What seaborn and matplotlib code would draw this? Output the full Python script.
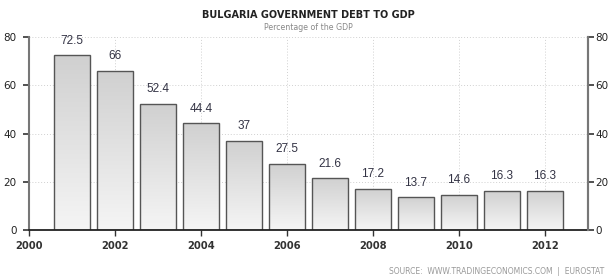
import numpy as np
import pandas as pd
import matplotlib
matplotlib.use("Agg")
import matplotlib.pyplot as plt
import seaborn as sns

years = [2001, 2002, 2003, 2004, 2005, 2006, 2007, 2008, 2009, 2010, 2011, 2012]
values = [72.5, 66, 52.4, 44.4, 37, 27.5, 21.6, 17.2, 13.7, 14.6, 16.3, 16.3]
labels = ["72.5", "66", "52.4", "44.4", "37", "27.5", "21.6", "17.2", "13.7", "14.6", "16.3", "16.3"]
xticks = [2000, 2002, 2004, 2006, 2008, 2010, 2012]
yticks = [0, 20, 40, 60, 80]
title = "BULGARIA GOVERNMENT DEBT TO GDP"
subtitle = "Percentage of the GDP"
source = "SOURCE:  WWW.TRADINGECONOMICS.COM  |  EUROSTAT"

sns.set_theme(style="white")
plt.rcParams["font.family"] = ["DejaVu Sans"]

df = pd.DataFrame({"year": years, "value": values})

fig = plt.figure(figsize=(6.09, 2.78), dpi=100)
ax = fig.add_axes([29 / 609, 1 - 230 / 278, (588 - 29) / 609, (230 - 37) / 278])

sns.barplot(data=df, x="year", y="value", native_scale=True, width=0.82,
            color="#dddddd", edgecolor="#555555", linewidth=1.0, ax=ax, zorder=3)

# gradient fill inside bars
grad = np.linspace(0, 1, 256).reshape(-1, 1)
cmap = matplotlib.colors.LinearSegmentedColormap.from_list("g", ["#f5f5f5", "#d0d0d0"])
for p in list(ax.patches):
    x0, y0 = p.get_x(), p.get_y()
    w, h = p.get_width(), p.get_height()
    im = ax.imshow(grad, extent=[x0, x0 + w, y0, y0 + h], origin="lower",
                   aspect="auto", cmap=cmap, zorder=2.5)
    im.set_clip_path(p)
    p.set_facecolor("none")

for x, v, t in zip(years, values, labels):
    ax.annotate(t, (x, v), xytext=(0, 6), textcoords="offset points",
                ha="center", va="bottom", fontsize=8.5, color="#333344",
                family=["Liberation Sans Narrow", "Liberation Sans"])

ax.set_xlim(2000, 2013)
ax.set_ylim(0, 80)
ax.set_xticks(xticks)
ax.set_xticklabels([str(t) for t in xticks], fontsize=7.2, fontweight="bold", color="#333333")
ax.set_yticks(yticks)
ax.set_yticklabels([str(t) for t in yticks], fontsize=7.5, color="#222222")
ax.set_xlabel("")
ax.set_ylabel("")
ax.grid(True, linestyle=(0, (1, 2)), color="#d0d0d0", linewidth=0.7, zorder=0)
ax.set_axisbelow(True)

ax.spines["top"].set_visible(False)
ax.spines["left"].set_color("#777777")
ax.spines["left"].set_linewidth(1.5)
ax.spines["right"].set_color("#777777")
ax.spines["right"].set_linewidth(1.5)
ax.spines["bottom"].set_color("#222222")
ax.spines["bottom"].set_linewidth(1.3)
ax.spines["bottom"].set_zorder(5)

ax.tick_params(axis="y", which="both", left=True, length=4.5, width=1.2, color="#333333", pad=4.3)
ax.tick_params(axis="x", which="both", bottom=True, length=4, width=1.0, color="#333333", pad=4)

ax2 = ax.twinx()
ax2.set_ylim(0, 80)
ax2.set_yticks(yticks)
ax2.set_yticklabels([str(t) for t in yticks], fontsize=7.5, color="#222222")
ax2.tick_params(axis="y", right=True, length=4, width=1.2, color="#333333", pad=1.2)
for s in ["top", "left", "bottom"]:
    ax2.spines[s].set_visible(False)
ax2.spines["right"].set_color("#777777")
ax2.spines["right"].set_linewidth(1.5)
ax2.grid(False)

fig.text(308 / 609, 1 - 15.5 / 278, title, ha="center", va="center",
         fontsize=7.0, fontweight="bold", color="#222222")
fig.text(308 / 609, 1 - 27 / 278, subtitle, ha="center", va="center",
         fontsize=5.7, color="#888888")
fig.text(604 / 609, 1 - 271 / 278, source, ha="right", va="center",
         fontsize=5.5, color="#999999")

fig.savefig("out.png", dpi=100)
